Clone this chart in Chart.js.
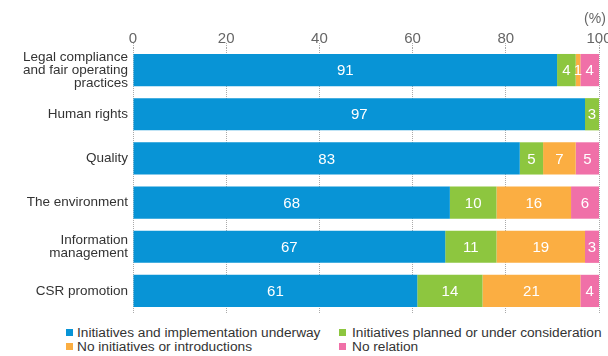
<!DOCTYPE html>
<html>
<head>
<meta charset="utf-8">
<script src="https://cdn.jsdelivr.net/npm/chart.js@4/dist/chart.umd.min.js"></script>
<style>
  html, body { margin: 0; padding: 0; background: #fff; }
  #wrap { position: relative; width: 608px; height: 356px; }
  #barChart { position: absolute; left: 0; top: 0; }
  .leg { position: absolute; font-family: "Liberation Sans", Arial, sans-serif; font-size: 13.7px; color: #333; white-space: nowrap; line-height: 14px; }
  .leg i { position: absolute; top: 3px; width: 7px; height: 7px; }
</style>
</head>
<body>
<div id="wrap">
  <canvas id="barChart" width="608" height="318"></canvas>
  <div id="legend"></div>
</div>
<script>
// chart data
const categories = [
    ['Legal compliance', 'and fair operating', 'practices'],
    'Human rights',
    'Quality',
    'The environment',
    ['Information', 'management'],
    'CSR promotion'
];
const underway = [91, 97, 83, 68, 67, 61];
const planned = [4, 3, 5, 10, 11, 14];
const noInitiatives = [1, 0, 7, 16, 19, 21];
const noRelation = [4, 0, 5, 6, 3, 4];
const seriesNames = [
    'Initiatives and implementation underway',
    'Initiatives planned or under consideration',
    'No initiatives or introductions',
    'No relation'
];
const xTicks = [0, 20, 40, 60, 80, 100];
const colors = ['#0894D6', '#8DC63F', '#FBAE42', '#F070A8'];

const FONT = '"Liberation Sans", Arial, sans-serif';

// white numbers inside each segment, plus the (%) unit
const valueLabels = {
    id: 'valueLabels',
    afterDatasetsDraw(chart) {
        const ctx = chart.ctx;
        ctx.save();
        ctx.font = '15px ' + FONT;
        ctx.fillStyle = '#fff';
        ctx.textAlign = 'center';
        ctx.textBaseline = 'middle';
        chart.data.datasets.forEach((ds, di) => {
            chart.getDatasetMeta(di).data.forEach((bar, i) => {
                const v = ds.data[i];
                if (!v) return;
                const p = bar.getProps(['x', 'y', 'base'], true);
                ctx.fillText(String(v), (p.x + p.base) / 2, p.y + 1);
            });
        });
        const xs = chart.scales.x;
        ctx.fillStyle = '#666';
        ctx.font = '14px ' + FONT;
        ctx.fillText('(%)', xs.getPixelForValue(100) - 4, 19);
        ctx.restore();
    }
};

const datasets = [underway, planned, noInitiatives, noRelation].map((d, i) => ({
    label: seriesNames[i],
    data: d,
    backgroundColor: colors[i],
    borderWidth: 0,
    categoryPercentage: 1,
    barPercentage: 0.73
}));

new Chart(document.getElementById('barChart').getContext('2d'), {
    type: 'bar',
    data: { labels: categories, datasets: datasets },
    options: {
        indexAxis: 'y',
        responsive: false,
        animation: false,
        layout: { padding: { top: 20, right: 9, bottom: 5, left: 0 } },
        plugins: { legend: { display: false }, tooltip: { enabled: false } },
        scales: {
            x: {
                position: 'top',
                stacked: true,
                min: 0,
                max: 100,
                afterBuildTicks(scale) {
                    scale.ticks = xTicks.map(v => ({ value: v }));
                },
                afterFit(scale) {
                    scale.paddingLeft = 0;
                    scale.paddingRight = 0;
                    scale.height = 28;
                },
                ticks: {
                    color: '#666',
                    padding: -5,
                    font: { family: FONT, size: 15, lineHeight: 1.2 }
                },
                grid: {
                    color: '#aaa',
                    drawTicks: true,
                    tickLength: 5,
                    tickColor: '#aaa',
                    tickBorderDash: [1, 1]
                },
                border: { display: false, dash: [1, 1] }
            },
            y: {
                stacked: true,
                afterFit(scale) {
                    scale.width = 133;
                    scale.paddingTop = 0;
                    scale.paddingBottom = 0;
                },
                grid: { display: false, drawTicks: false },
                border: { display: false },
                ticks: {
                    autoSkip: false,
                    color: '#333',
                    padding: 5,
                    font: { family: FONT, size: 13.5, lineHeight: 0.98 }
                }
            }
        }
    },
    plugins: [valueLabels]
});

// legend in two columns: [box x, text x, row y]
const legendPos = [[66, 77, 326], [339, 352, 326], [66, 77, 340], [339, 352, 340]];
const legendEl = document.getElementById('legend');
seriesNames.forEach((name, i) => {
    const el = document.createElement('div');
    el.className = 'leg';
    el.style.left = legendPos[i][0] + 'px';
    el.style.top = legendPos[i][2] + 'px';
    el.style.paddingLeft = (legendPos[i][1] - legendPos[i][0]) + 'px';
    el.innerHTML = '<i style="left:0;background:' + colors[i] + '"></i>' + name;
    legendEl.appendChild(el);
});
</script>
</body>
</html>
